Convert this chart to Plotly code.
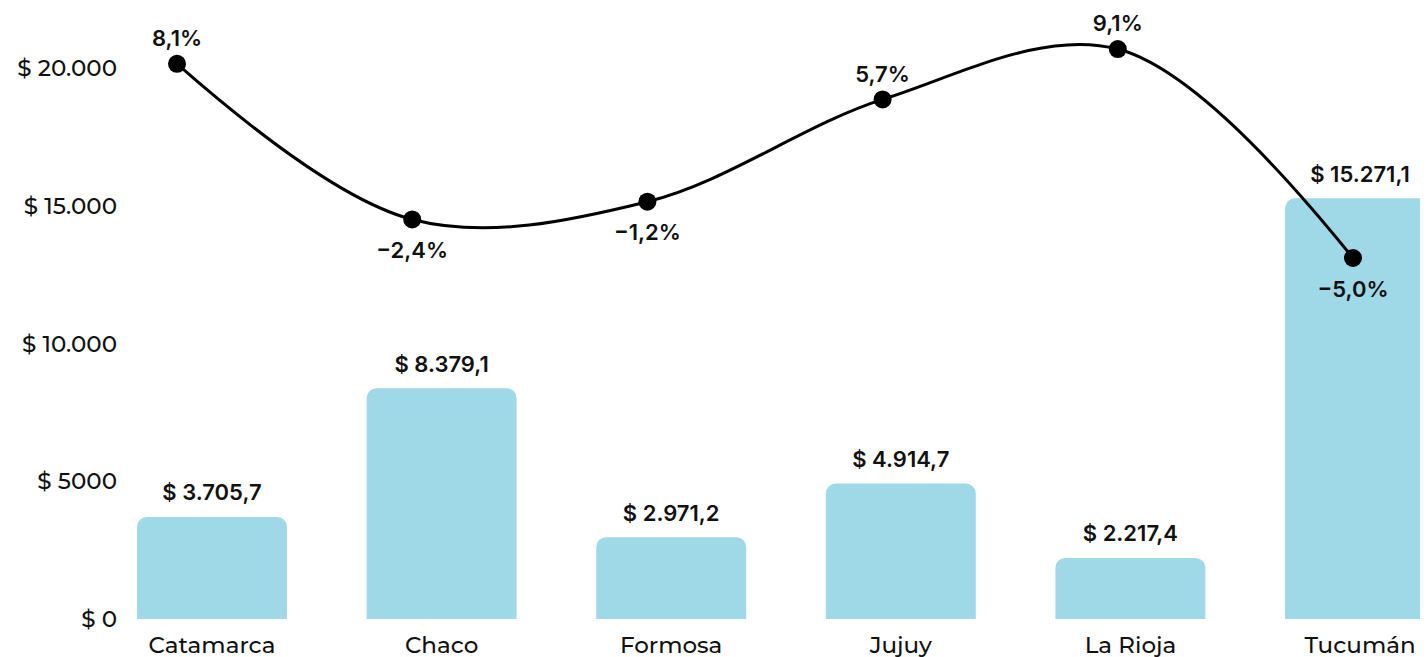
import plotly.graph_objects as go

provinces = ["Catamarca", "Chaco", "Formosa", "Jujuy", "La Rioja", "Tucumán"]
amounts = [3705.7, 8379.1, 2971.2, 4914.7, 2217.4, 15271.1]
pct_change = [8.1, -2.4, -1.2, 5.7, 9.1, -5.0]
y_tickvals = [0, 5000, 10000, 15000, 20000]
y_ticktext = ["$ 0", "$ 5000", "$ 10.000", "$ 15.000", "$ 20.000"]

TICK_FONT = "Montserrat, 'Noto Sans', sans-serif"
LABEL_FONT = "Inter, 'Noto Sans', sans-serif"
BAR_COLOR = "#9fd8e7"


def pct_text(v):
    return f"{v:.1f}%".replace(".", ",").replace("-", "\u2212")


x_idx = list(range(len(provinces)))
pos_idx = [i for i, v in enumerate(pct_change) if v >= 0]
neg_idx = [i for i, v in enumerate(pct_change) if v < 0]

fig = go.Figure()

fig.add_trace(go.Bar(
    x=provinces, y=amounts,
    marker=dict(color=BAR_COLOR, line=dict(width=0)),
    width=0.653,
    xaxis="x", yaxis="y",
    hoverinfo="skip",
    showlegend=False,
))

# value labels above the bars
fig.add_trace(go.Scatter(
    x=provinces, y=amounts,
    mode="markers+text",
    marker=dict(size=16, opacity=0),
    texttemplate="$ %{y:,.1f}",
    textposition="top center",
    textfont=dict(family=LABEL_FONT, size=22, color="#111111", weight=600),
    cliponaxis=False,
    xaxis="x", yaxis="y",
    showlegend=False,
))

fig.add_trace(go.Scatter(
    x=x_idx, y=pct_change,
    mode="lines+markers",
    line=dict(color="#000000", width=3, shape="spline", smoothing=1),
    marker=dict(color="#000000", size=18),
    cliponaxis=False,
    xaxis="x2", yaxis="y2",
    showlegend=False,
))

# percentage labels: positive above, negative below
fig.add_trace(go.Scatter(
    x=[x_idx[i] for i in pos_idx], y=[pct_change[i] for i in pos_idx],
    mode="markers+text",
    marker=dict(size=18, opacity=0),
    text=[pct_text(pct_change[i]) for i in pos_idx],
    textposition="top center",
    textfont=dict(family=LABEL_FONT, size=22, color="#111111", weight=600),
    cliponaxis=False,
    xaxis="x2", yaxis="y2",
    showlegend=False,
))
fig.add_trace(go.Scatter(
    x=[x_idx[i] for i in neg_idx], y=[pct_change[i] for i in neg_idx],
    mode="markers+text",
    marker=dict(size=34, opacity=0),
    text=[pct_text(pct_change[i]) for i in neg_idx],
    textposition="bottom center",
    textfont=dict(family=LABEL_FONT, size=22, color="#111111", weight=600),
    cliponaxis=False,
    xaxis="x2", yaxis="y2",
    showlegend=False,
))

fig.update_layout(
    width=1428, height=657,
    margin=dict(l=114, r=0, t=0, b=46, pad=0),
    paper_bgcolor="white", plot_bgcolor="white",
    separators=",.",
    barcornerradius=10,
    font=dict(family=TICK_FONT, size=23, color="#111111"),
    xaxis=dict(
        type="category", range=[-0.392, 5.331],
        showgrid=False, zeroline=False, showline=False, ticks="",
        ticklabelstandoff=10,
        tickfont=dict(family=TICK_FONT, size=23, color="#111111", weight=500),
    ),
    xaxis2=dict(
        overlaying="x", range=[-0.234, 5.353],
        visible=False, showgrid=False, zeroline=False,
    ),
    yaxis=dict(
        range=[0, 22178], tickvals=y_tickvals, ticktext=y_ticktext,
        showgrid=False, zeroline=False, showline=False, ticks="",
        ticklabelstandoff=4,
        tickfont=dict(family=TICK_FONT, size=23, color="#111111", weight=500),
    ),
    yaxis2=dict(
        overlaying="y", side="right", range=[-29.36, 11.87],
        visible=False, showgrid=False, zeroline=False,
    ),
)

fig.write_html("out.html")
